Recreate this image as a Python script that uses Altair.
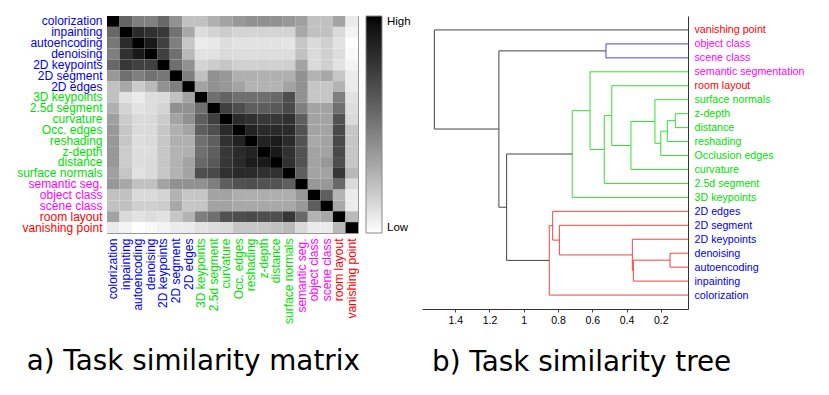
import json
import altair as alt
import pandas as pd

# ---------------- data: similarity matrix ----------------
HEAT_TASKS = ["colorization", "inpainting", "autoencoding", "denoising", "2D keypoints",
              "2D segment", "2D edges", "3D keypoints", "2.5d segment", "curvature",
              "Occ. edges", "reshading", "z-depth", "distance", "surface normals",
              "semantic seg.", "object class", "scene class", "room layout", "vanishing point"]
HEAT_GROUPS = ["2d"] * 7 + ["3d"] * 8 + ["sem"] * 3 + ["lay"] * 2

SIMILARITY = [
    [1, 0.58, 0.47, 0.46, 0.56, 0.40, 0.22, 0.22, 0.28, 0.33, 0.37, 0.40, 0.40, 0.40, 0.37, 0.34, 0.22, 0.22, 0.33, 0.07],
    [0.56, 1, 0.83, 0.80, 0.77, 0.52, 0.31, 0.12, 0.15, 0.18, 0.15, 0.15, 0.15, 0.15, 0.15, 0.31, 0.22, 0.22, 0.13, 0.04],
    [0.50, 0.83, 1, 0.91, 0.73, 0.47, 0.20, 0.07, 0.08, 0.12, 0.10, 0.10, 0.10, 0.10, 0.09, 0.20, 0.13, 0.165, 0.10, 0.0],
    [0.47, 0.80, 0.91, 1, 0.73, 0.53, 0.25, 0.10, 0.10, 0.13, 0.12, 0.12, 0.12, 0.12, 0.12, 0.22, 0.13, 0.165, 0.12, 0.02],
    [0.56, 0.77, 0.73, 0.73, 1, 0.53, 0.40, 0.15, 0.18, 0.20, 0.165, 0.165, 0.165, 0.165, 0.165, 0.33, 0.13, 0.165, 0.10, 0.04],
    [0.37, 0.53, 0.47, 0.52, 0.50, 1, 0.47, 0.22, 0.40, 0.37, 0.28, 0.28, 0.28, 0.28, 0.28, 0.40, 0.27, 0.31, 0.20, 0.07],
    [0.22, 0.31, 0.18, 0.25, 0.40, 0.47, 1, 0.33, 0.40, 0.37, 0.33, 0.27, 0.27, 0.27, 0.33, 0.40, 0.20, 0.20, 0.27, 0.07],
    [0.22, 0.10, 0.07, 0.12, 0.13, 0.22, 0.33, 1, 0.53, 0.58, 0.53, 0.53, 0.53, 0.56, 0.67, 0.40, 0.20, 0.20, 0.47, 0.10],
    [0.28, 0.15, 0.10, 0.12, 0.15, 0.40, 0.40, 0.53, 1, 0.73, 0.67, 0.60, 0.60, 0.62, 0.69, 0.47, 0.33, 0.33, 0.53, 0.12],
    [0.34, 0.18, 0.13, 0.13, 0.18, 0.33, 0.40, 0.60, 0.73, 1, 0.83, 0.80, 0.77, 0.77, 0.80, 0.60, 0.33, 0.33, 0.65, 0.13],
    [0.37, 0.20, 0.13, 0.13, 0.20, 0.28, 0.33, 0.60, 0.67, 0.83, 1, 0.87, 0.83, 0.83, 0.83, 0.65, 0.33, 0.33, 0.69, 0.20],
    [0.37, 0.20, 0.12, 0.13, 0.20, 0.28, 0.28, 0.53, 0.60, 0.80, 0.87, 1, 0.87, 0.90, 0.83, 0.65, 0.31, 0.33, 0.69, 0.20],
    [0.37, 0.18, 0.12, 0.12, 0.20, 0.27, 0.28, 0.53, 0.60, 0.77, 0.83, 0.87, 1, 0.91, 0.80, 0.65, 0.33, 0.33, 0.69, 0.20],
    [0.37, 0.18, 0.12, 0.13, 0.20, 0.27, 0.33, 0.56, 0.62, 0.77, 0.83, 0.90, 0.91, 1, 0.80, 0.65, 0.33, 0.37, 0.67, 0.20],
    [0.34, 0.20, 0.10, 0.13, 0.20, 0.27, 0.33, 0.67, 0.69, 0.80, 0.83, 0.83, 0.80, 0.80, 1, 0.60, 0.33, 0.33, 0.77, 0.25],
    [0.37, 0.31, 0.22, 0.22, 0.33, 0.40, 0.40, 0.40, 0.47, 0.60, 0.65, 0.67, 0.65, 0.65, 0.60, 1, 0.37, 0.37, 0.56, 0.13],
    [0.22, 0.22, 0.13, 0.13, 0.15, 0.27, 0.20, 0.20, 0.33, 0.33, 0.29, 0.29, 0.29, 0.29, 0.29, 0.37, 1, 0.60, 0.27, 0.07],
    [0.22, 0.22, 0.165, 0.165, 0.18, 0.31, 0.20, 0.20, 0.33, 0.33, 0.31, 0.31, 0.31, 0.31, 0.31, 0.37, 0.60, 1, 0.31, 0.07],
    [0.33, 0.13, 0.10, 0.12, 0.10, 0.20, 0.27, 0.47, 0.53, 0.65, 0.67, 0.69, 0.67, 0.67, 0.77, 0.56, 0.27, 0.31, 1, 0.25],
    [0.07, 0.04, 0.0, 0.02, 0.04, 0.07, 0.07, 0.10, 0.12, 0.13, 0.20, 0.20, 0.20, 0.22, 0.25, 0.13, 0.07, 0.07, 0.25, 1],
]

# ---------------- data: dendrogram ----------------
LEAVES = ["vanishing point", "object class", "scene class", "semantic segmentation", "room layout",
          "surface normals", "z-depth", "distance", "reshading", "Occlusion edges", "curvature",
          "2.5d segment", "3D keypoints", "2D edges", "2D segment", "2D keypoints", "denoising",
          "autoencoding", "inpainting", "colorization"]
LEAF_GROUPS = ["lay", "sem", "sem", "sem", "lay"] + ["3d"] * 8 + ["2d"] * 7

MERGE_LEFT = ["z-depth", "m1", "m2", "surface normals", "m4", "room layout", "m6",
              "semantic segmentation", "m8", "object class", "denoising", "m11", "2D keypoints",
              "2D segment", "2D edges", "m15", "m9", "m10", "vanishing point"]
MERGE_RIGHT = ["distance", "reshading", "Occlusion edges", "m3", "curvature", "m5", "2.5d segment",
               "m7", "3D keypoints", "scene class", "autoencoding", "inpainting", "m12",
               "m13", "m14", "colorization", "m16", "m17", "m18"]
MERGE_HEIGHT = [0.115, 0.162, 0.200, 0.234, 0.374, 0.486, 0.530, 0.613, 0.717, 0.520,
                0.146, 0.360, 0.366, 0.792, 0.831, 0.851, 1.100, 1.145, 1.522]
MERGE_CLUSTER = ["green"] * 9 + ["blue"] + ["red"] * 6 + ["top"] * 3

AXIS_TICKS = [0.2, 0.4, 0.6, 0.8, 1, 1.2, 1.4]

GROUP_TEXT_COLORS = {"2d": "#0000ee", "3d": "#00e000", "sem": "#ff00ff", "lay": "#ff0000"}
CLUSTER_LINE_COLORS = {"top": "#444444", "red": "#f04444", "green": "#33e033", "blue": "#4444e0"}

# ---------------- heatmap ----------------
heat_rows = []
for i, rt in enumerate(HEAT_TASKS):
    for j, ct in enumerate(HEAT_TASKS):
        heat_rows.append({"row": rt, "col": ct, "value": SIMILARITY[i][j]})
heat_df = pd.DataFrame(heat_rows)


def label_color_expr(tasks, groups):
    expr = ""
    items = list(GROUP_TEXT_COLORS.items())
    for g, c in items[:-1]:
        names = [t for t, gg in zip(tasks, groups) if gg == g]
        expr += "indexof(%s, datum.value) >= 0 ? '%s' : " % (json.dumps(names), c)
    expr += "'%s'" % items[-1][1]
    return expr


heat_color_expr = label_color_expr(HEAT_TASKS, HEAT_GROUPS)

heat = alt.Chart(heat_df).mark_rect(strokeWidth=0).encode(
    x=alt.X("col:N", sort=HEAT_TASKS, title=None,
            axis=alt.Axis(labelAngle=270, labelFont="Liberation Sans", labelFontSize=12,
                          labelColor={"expr": heat_color_expr}, ticks=False, domain=False,
                          labelPadding=5, labelOverlap=False, labelLimit=300)),
    y=alt.Y("row:N", sort=HEAT_TASKS, title=None,
            axis=alt.Axis(labelFont="Liberation Sans", labelFontSize=12,
                          labelColor={"expr": heat_color_expr}, ticks=False, domain=False,
                          labelPadding=5, labelOverlap=False, labelLimit=300)),
    color=alt.Color("value:Q", scale=alt.Scale(domain=[0, 1], range=["#ffffff", "#000000"]),
                    legend=alt.Legend(title=None, orient="right", offset=8, direction="vertical",
                                      gradientLength=217, gradientThickness=16,
                                      gradientStrokeColor="#888888", gradientStrokeWidth=1,
                                      values=[0, 1],
                                      labelExpr="datum.value >= 1 ? 'High' : 'Low'",
                                      labelFont="Liberation Sans", labelFontSize=11.5,
                                      labelOffset=5, labelBaseline="middle", padding=0,
                                      labelOverlap=False)),
).properties(
    width=251, height=217,
    view=alt.ViewBackground(stroke="#999999", strokeWidth=1),
    title=alt.TitleParams("a) Task similarity matrix", orient="bottom", anchor="start",
                          font="DejaVu Sans", fontSize=27.8, fontWeight="normal", color="#000000",
                          baseline="alphabetic", offset=47, dx=10),
)

# ---------------- dendrogram ----------------
ypos = {name: i + 1 for i, name in enumerate(LEAVES)}
hpos = {name: 0.0 for name in LEAVES}
segs = []
for k, (a, b, h, cl) in enumerate(zip(MERGE_LEFT, MERGE_RIGHT, MERGE_HEIGHT, MERGE_CLUSTER)):
    col = CLUSTER_LINE_COLORS[cl]
    for c in (a, b):
        segs.append({"x": hpos[c], "x2": h, "y": ypos[c], "y2": ypos[c], "color": col})
    segs.append({"x": h, "x2": h, "y": ypos[a], "y2": ypos[b], "color": col})
    name = "m%d" % (k + 1)
    ypos[name] = (ypos[a] + ypos[b]) / 2.0
    hpos[name] = h
seg_df = pd.DataFrame(segs)

leaf_colors = [GROUP_TEXT_COLORS[g] for g in LEAF_GROUPS]

dendro = alt.Chart(seg_df).mark_rule(strokeWidth=1, clip=True).encode(
    x=alt.X("x:Q", title=None,
            scale=alt.Scale(domain=[0.041, 1.594], reverse=True, nice=False, zero=False),
            axis=alt.Axis(values=AXIS_TICKS, format="~g", grid=False, labelFont="Liberation Sans",
                          labelFontSize=10.5, tickSize=3, tickColor="#444444",
                          domainColor="#333333", labelPadding=3, labelColor="#000000")),
    x2="x2:Q",
    y=alt.Y("y:Q", title=None,
            scale=alt.Scale(domain=[0, 21], reverse=True, nice=False, zero=False),
            axis=alt.Axis(orient="right", values=list(range(1, 21)),
                          labelExpr="%s[datum.value - 1]" % json.dumps(LEAVES),
                          labelColor={"expr": "%s[datum.value - 1]" % json.dumps(leaf_colors)},
                          grid=False, ticks=False, domainColor="#333333",
                          labelFont="Liberation Sans", labelFontSize=10.7, labelPadding=6,
                          labelOverlap=False, labelLimit=300)),
    y2="y2:Q",
    color=alt.Color("color:N", scale=None),
).properties(
    width=266, height=293,
    view=alt.ViewBackground(strokeWidth=0),
    title=alt.TitleParams("b) Task similarity tree", orient="bottom", anchor="start",
                          font="DejaVu Sans", fontSize=27.8, fontWeight="normal", color="#000000",
                          baseline="alphabetic", offset=45, dx=10),
)

chart = alt.hconcat(heat, dendro, spacing=10).resolve_scale(
    color="independent").resolve_legend(color="independent").properties(
    padding={"left": 8, "top": 6, "right": 0, "bottom": 0}
).configure_view(strokeWidth=0)

chart.save("out.html", embed_options={"renderer": "svg", "actions": False})
